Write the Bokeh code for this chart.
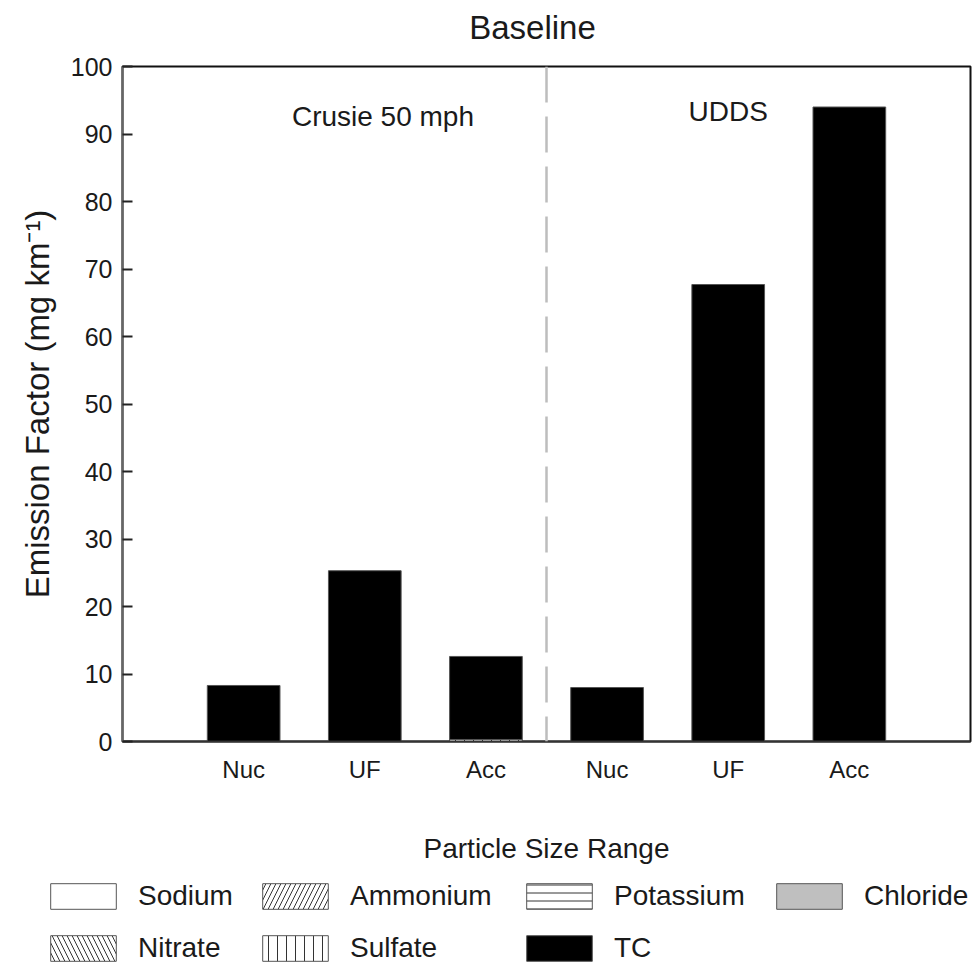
import numpy as np
from bokeh.plotting import figure
from bokeh.layouts import column
from bokeh.models import Range1d, FixedTicker, Span, Label, Legend, LegendItem, ColumnDataSource
from bokeh.embed import file_html
from bokeh.resources import INLINE

# ---- data ----
title_text = "Baseline"
categories = ["Nuc", "UF", "Acc", "Nuc", "UF", "Acc"]
cycle_labels = ["Crusie 50 mph", "UDDS"]
species = ["Sodium", "Ammonium", "Potassium", "Chloride", "Nitrate", "Sulfate", "TC"]
sodium = [0.0, 0.0, 0.0, 0.0, 0.0, 0.0]
ammonium = [0.0, 0.0, 0.0, 0.0, 0.0, 0.0]
potassium = [0.0, 0.0, 0.0, 0.0, 0.0, 0.0]
chloride = [0.0, 0.0, 0.0, 0.0, 0.0, 0.0]
nitrate = [0.0, 0.0, 0.0, 0.0, 0.0, 0.0]
sulfate = [0.0, 0.0, 0.3, 0.0, 0.0, 0.0]
tc = [8.3, 25.3, 12.3, 8.0, 67.7, 94.0]
y_ticks = [0, 10, 20, 30, 40, 50, 60, 70, 80, 90, 100]

FONT = "Liberation Sans"
TXT = "#1a1a1a"

fills = ["white", "white", "white", "#bfbfbf", "white", "white", "black"]
hatches = [" ", "/", "-", " ", "\\", "|", " "]
scales = [10, 10, 8, 10, 10, 9, 10]
bar_style = dict(fill_color=fills, hatch_pattern=hatches, hatch_scale=scales,
                 hatch_color="#333333", hatch_weight=1, line_color="#555555", line_width=1)

W = 978
BL, BR = 122, 8
T = 54          # title strip height
PH = 870 - T    # main chart height
LH = 971 - T - PH  # legend strip height


def no_align(fig):
    if "frame_align" in fig.properties():
        fig.frame_align = False


# ---- title strip ----
tf = figure(width=W, height=T, output_backend="svg", toolbar_location=None,
            x_range=Range1d(0, W - BL - BR), y_range=Range1d(0, T),
            min_border_left=BL, min_border_right=BR, min_border_top=0, min_border_bottom=0)
no_align(tf)
tf.axis.visible = False
tf.grid.visible = False
tf.outline_line_color = None
tf.add_layout(Label(x=(W - BL - BR) / 2 - 14, y=T - 27, text=title_text, text_align="center",
                    text_baseline="alphabetic", text_font=FONT, text_font_size="33px",
                    text_color=TXT))

# ---- main chart ----
x = list(range(1, len(categories) + 1))
src = ColumnDataSource(dict(x=x, Sodium=sodium, Ammonium=ammonium, Potassium=potassium,
                            Chloride=chloride, Nitrate=nitrate, Sulfate=sulfate, TC=tc))

p = figure(width=W, height=PH, output_backend="svg", toolbar_location=None,
           x_range=Range1d(0, len(categories) + 1), y_range=Range1d(0, 100),
           min_border_left=BL, min_border_right=BR, min_border_top=66 - T,
           min_border_bottom=PH - (741 - T))
no_align(p)
p.grid.visible = False
p.outline_line_color = "#111111"
p.outline_line_width = 2
p.background_fill_color = "white"
p.border_fill_color = "white"

p.vbar_stack(species, x="x", width=0.6, source=src, **bar_style)

xa = p.xaxis[0]
xa.ticker = FixedTicker(ticks=x)
xa.major_label_overrides = {xi: c for xi, c in zip(x, categories)}
xa.major_tick_line_color = None
xa.minor_tick_line_color = None
xa.axis_line_color = "#333333"
xa.axis_line_width = 2
xa.major_label_text_font = FONT
xa.major_label_text_font_size = "24px"
xa.major_label_text_color = TXT
xa.major_label_standoff = 8
xa.axis_label = "Particle Size Range"
xa.axis_label_text_font = FONT
xa.axis_label_text_font_size = "28px"
xa.axis_label_text_font_style = "normal"
xa.axis_label_text_color = TXT
xa.axis_label_standoff = 47

ya = p.yaxis[0]
ya.ticker = FixedTicker(ticks=y_ticks)
ya.minor_tick_line_color = None
ya.major_tick_in = 10
ya.major_tick_out = 0
ya.major_tick_line_width = 2
ya.major_tick_line_color = "#222222"
ya.axis_line_color = "#666666"
ya.axis_line_width = 2
ya.major_label_text_font = FONT
ya.major_label_text_font_size = "25px"
ya.major_label_text_color = TXT
ya.major_label_standoff = 10
ya.axis_label = "Emission Factor (mg km\u207b\u00b9)"
ya.axis_label_text_font = FONT
ya.axis_label_text_font_size = "33px"
ya.axis_label_text_font_style = "normal"
ya.axis_label_text_color = TXT
ya.axis_label_standoff = 12

p.add_layout(Span(location=3.5, dimension="height", line_color="#bdbdbd",
                  line_width=2.5, line_dash="36 14"))
p.add_layout(Label(x=2.15, y=92.6, text=cycle_labels[0], text_align="center",
                   text_baseline="middle", text_font=FONT, text_font_size="28px",
                   text_color=TXT))
p.add_layout(Label(x=5.0, y=93.4, text=cycle_labels[1], text_align="center",
                   text_baseline="middle", text_font=FONT, text_font_size="28px",
                   text_color=TXT))

# ---- legend strip ----
# the strip holds a copy of the stacked bars scrolled out of view, so the legend
# swatches share their styles; only the legends are visible here
lf = figure(width=W, height=LH, output_backend="svg", toolbar_location=None,
            x_range=Range1d(0, W), y_range=Range1d(1000, 1000 + LH),
            min_border_left=0, min_border_right=0, min_border_top=0, min_border_bottom=0)
no_align(lf)
lf.axis.visible = False
lf.grid.visible = False
lf.outline_line_color = None
lf.background_fill_color = "white"
lf.border_fill_color = "white"
lrs = lf.vbar_stack(species, x="x", width=0.6, source=src, **bar_style)
rmap = dict(zip(species, lrs))

columns = [["Sodium", "Nitrate"], ["Ammonium", "Sulfate"], ["Potassium", "TC"], ["Chloride"]]
col_x = [42, 254, 518, 768]
item_h = 34
gap = 18
top_off = 9
for names, cx in zip(columns, col_x):
    n = len(names)
    H = n * item_h + (n - 1) * gap
    leg = Legend(items=[LegendItem(label=nm, renderers=[rmap[nm]]) for nm in names],
                 location=(cx, LH - top_off - H), orientation="vertical",
                 glyph_width=82, glyph_height=32, label_height=item_h,
                 label_standoff=14, spacing=gap, padding=0, margin=0,
                 border_line_color=None, background_fill_alpha=0,
                 label_text_font=FONT, label_text_font_size="28px",
                 label_text_color=TXT)
    lf.add_layout(leg, "center")

layout = column(tf, p, lf, spacing=0)
open("out.html", "w").write(file_html(layout, INLINE))
